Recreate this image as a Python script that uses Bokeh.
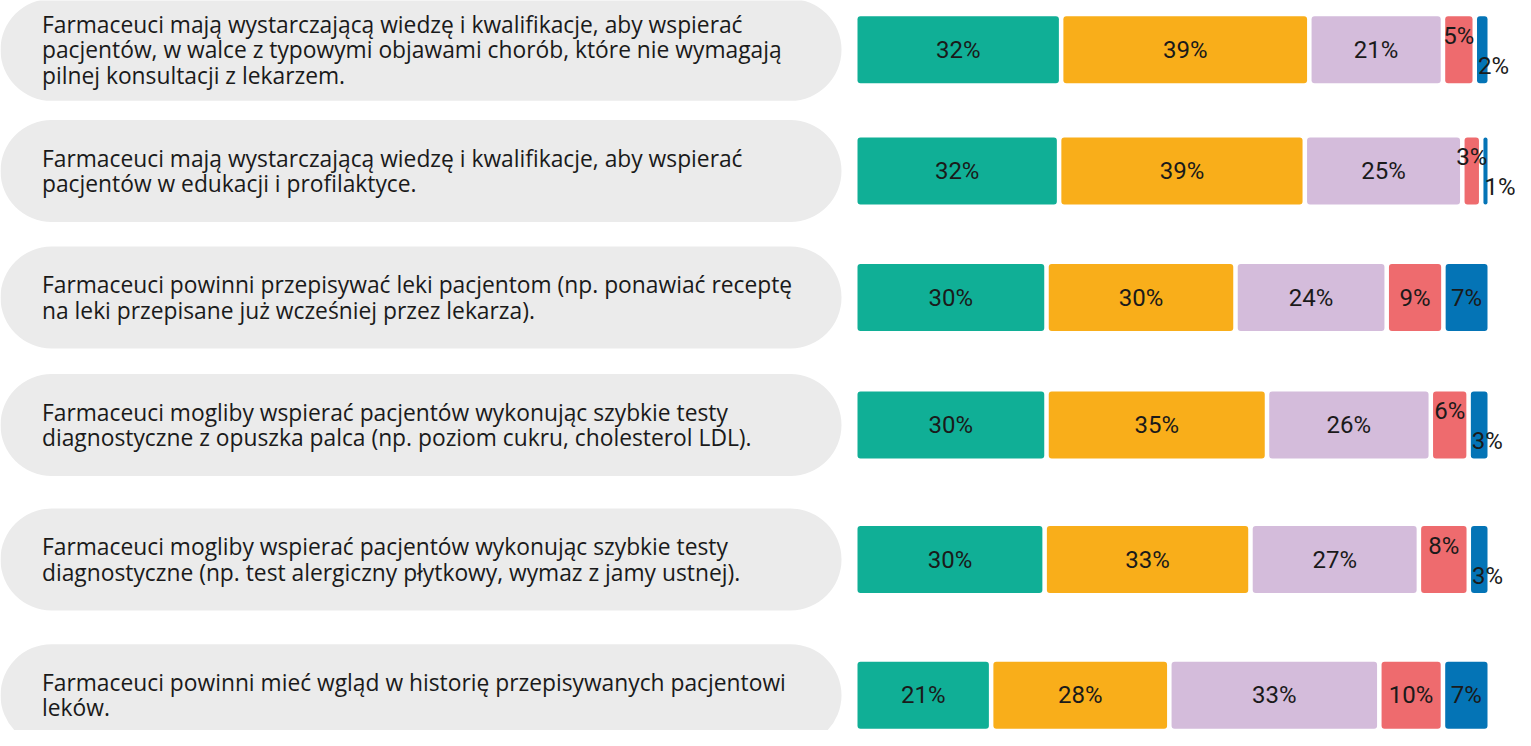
from bokeh.plotting import figure
from bokeh.models import ColumnDataSource, Range1d
from bokeh.core.properties import value
from bokeh.embed import file_html
from bokeh.resources import INLINE

# ---------------- data ----------------
statements = [
    "Farmaceuci mają wystarczającą wiedzę i kwalifikacje, aby wspierać\npacjentów, w walce z typowymi objawami chorób, które nie wymagają\npilnej konsultacji z lekarzem.",
    "Farmaceuci mają wystarczającą wiedzę i kwalifikacje, aby wspierać\npacjentów w edukacji i profilaktyce.",
    "Farmaceuci powinni przepisywać leki pacjentom (np. ponawiać receptę\nna leki przepisane już wcześniej przez lekarza).",
    "Farmaceuci mogliby wspierać pacjentów wykonując szybkie testy\ndiagnostyczne z opuszka palca (np. poziom cukru, cholesterol LDL).",
    "Farmaceuci mogliby wspierać pacjentów wykonując szybkie testy\ndiagnostyczne (np. test alergiczny płytkowy, wymaz z jamy ustnej).",
    "Farmaceuci powinni mieć wgląd w historię przepisywanych pacjentowi\nleków.",
]
series_1 = [32, 32, 30, 30, 30, 21]
series_2 = [39, 39, 30, 35, 33, 28]
series_3 = [21, 25, 24, 26, 27, 33]
series_4 = [5, 3, 9, 6, 8, 10]
series_5 = [2, 1, 7, 3, 3, 7]

# ---------------- styles / layout ----------------
colors = ["#10AF96", "#F9AE1A", "#D4BCDB", "#EE6B6E", "#0474B6"]
pill_color = "#EBEBEB"
text_color = "#1A1A1A"
TEXT_FONT = "Open Sans"
LABEL_FONT = "Roboto"

W, H = 1515, 730
X0, Y0 = 0, 8                          # pixel at canvas top-left
BAR_L, BAR_R = 857.0, 1487.0           # pixel span of 0..100 %
PX_PER = (BAR_R - BAR_L) / 100.0
row_y = [57.3, 178.5, 305.0, 432.5, 567.0, 702.7]   # row centres (px, downward)
BAR_H = 67
PILL_H = 102
PILL_L, PILL_R = 0.0, 841.0
TEXT_X = 41.5
GAP = 4.5


def px(xpx):
    return (xpx - BAR_L) / PX_PER


p = figure(width=W, height=H, output_backend="svg", toolbar_location=None,
           x_range=Range1d(px(X0), px(X0 + W)), y_range=Range1d(Y0 + H, Y0),
           x_axis_location=None, y_axis_location=None, min_border=0)
p.grid.visible = False
p.outline_line_color = None
p.background_fill_color = "white"
p.border_fill_color = "white"

# pills
pill_src = ColumnDataSource(dict(
    x=[px((PILL_L + PILL_R) / 2)] * len(statements),
    y=row_y,
    w=[(PILL_R - PILL_L) / PX_PER] * len(statements),
))
p.rect(x="x", y="y", width="w", height=PILL_H, source=pill_src,
       fill_color=pill_color, line_color=None, border_radius=PILL_H // 2)

p.text(x=[px(TEXT_X)] * len(statements), y=row_y, text=statements,
       text_font=value(TEXT_FONT), text_font_size="22.8px", text_color=text_color,
       text_align="left", text_baseline="middle", text_line_height=0.82)

# stacked bars
series = [series_1, series_2, series_3, series_4, series_5]
gap_u = GAP / PX_PER
lab = dict(x=[], y=[], text=[], align=[], xo=[], yo=[])
for si, vals in enumerate(series):
    lefts, rights, ys = [], [], []
    for ri in range(len(statements)):
        row = [s[ri] for s in series]
        tot = sum(row)
        start = sum(row[:si]) / tot * 100
        end = start + vals[ri] / tot * 100
        l = start + (gap_u / 2 if si > 0 else 0)
        r = end - (gap_u / 2 if si < len(series) - 1 else 0)
        lefts.append(l)
        rights.append(r)
        ys.append(row_y[ri])
        narrow = row[-1] < 5
        if narrow and si == len(series) - 1:
            lab["x"].append(l); lab["align"].append("left"); lab["xo"].append(1); lab["yo"].append(16)
        elif narrow and si == len(series) - 2:
            lab["x"].append((l + r) / 2); lab["align"].append("center"); lab["xo"].append(0); lab["yo"].append(-14)
        else:
            lab["x"].append((l + r) / 2); lab["align"].append("center"); lab["xo"].append(0); lab["yo"].append(0)
        lab["y"].append(row_y[ri])
        lab["text"].append(f"{vals[ri]}%")
    p.hbar(y=ys, left=lefts, right=rights, height=BAR_H, fill_color=colors[si],
           line_color=None, border_radius=3)

lab_src = ColumnDataSource(lab)
p.text(x="x", y="y", text="text", source=lab_src, x_offset="xo", y_offset="yo",
       text_align="align", text_baseline="middle", text_font=value(LABEL_FONT),
       text_font_size="24px", text_color=text_color)

open("out.html", "w").write(file_html(p, INLINE))
